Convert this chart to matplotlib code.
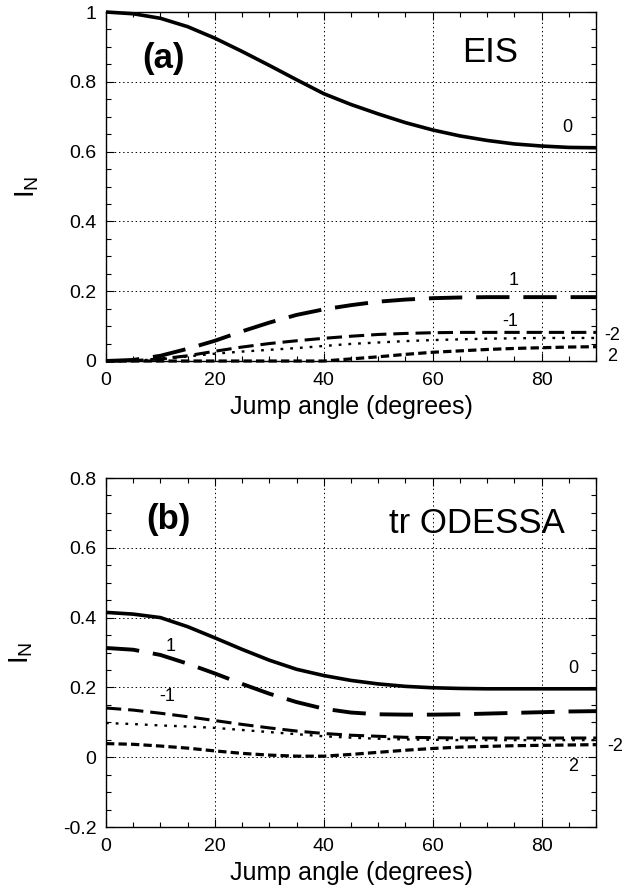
import matplotlib
matplotlib.use("Agg")
import matplotlib.pyplot as plt
from matplotlib.ticker import MultipleLocator, FuncFormatter

plt.rcParams['font.family'] = ['Liberation Sans', 'DejaVu Sans']
plt.rcParams['lines.scale_dashes'] = False
plt.rcParams['mathtext.fontset'] = 'custom'
plt.rcParams['mathtext.rm'] = 'Liberation Sans'
plt.rcParams['mathtext.it'] = 'Liberation Sans'

angle = [0, 5, 10, 15, 20, 25, 30, 35, 40, 45, 50, 55, 60, 65, 70, 75, 80, 85, 90]

# Panel (a): EIS
a_0 = [1.0, 0.995, 0.982, 0.958, 0.925, 0.887, 0.847, 0.806, 0.766, 0.735, 0.708,
       0.683, 0.662, 0.645, 0.632, 0.622, 0.616, 0.612, 0.611]
a_1 = [0.0, 0.003, 0.015, 0.035, 0.058, 0.085, 0.110, 0.132, 0.148, 0.160, 0.170,
       0.176, 0.180, 0.182, 0.183, 0.183, 0.183, 0.183, 0.183]
a_m1 = [0.0, 0.001, 0.006, 0.015, 0.028, 0.040, 0.050, 0.058, 0.065, 0.071, 0.076,
        0.079, 0.081, 0.082, 0.082, 0.082, 0.082, 0.082, 0.082]
a_m2 = [0.0, 0.001, 0.005, 0.013, 0.021, 0.027, 0.032, 0.037, 0.043, 0.049, 0.053,
        0.057, 0.060, 0.062, 0.064, 0.065, 0.066, 0.066, 0.066]
a_2 = [0.0, 0.0, 0.0, 0.0, 0.0, 0.0, 0.0, 0.0, 0.0, 0.006, 0.012,
       0.019, 0.025, 0.029, 0.033, 0.036, 0.038, 0.040, 0.041]

# Panel (b): tr ODESSA
b_0 = [0.415, 0.410, 0.400, 0.374, 0.342, 0.309, 0.278, 0.252, 0.234, 0.220, 0.210,
       0.203, 0.199, 0.197, 0.196, 0.196, 0.196, 0.196, 0.196]
b_1 = [0.313, 0.308, 0.293, 0.268, 0.240, 0.210, 0.182, 0.158, 0.139, 0.128, 0.123,
       0.122, 0.122, 0.123, 0.125, 0.127, 0.129, 0.131, 0.132]
b_m1 = [0.141, 0.135, 0.126, 0.116, 0.105, 0.094, 0.084, 0.075, 0.068, 0.063, 0.060,
        0.057, 0.056, 0.055, 0.055, 0.055, 0.055, 0.055, 0.055]
b_m2 = [0.098, 0.095, 0.091, 0.088, 0.084, 0.078, 0.072, 0.066, 0.060, 0.056, 0.053,
        0.051, 0.050, 0.049, 0.049, 0.049, 0.049, 0.049, 0.049]
b_2 = [0.039, 0.037, 0.032, 0.026, 0.018, 0.011, 0.006, 0.003, 0.003, 0.008, 0.014,
       0.020, 0.025, 0.029, 0.031, 0.033, 0.034, 0.035, 0.036]

styles = {
    '0': dict(lw=2.6, ls='-'),
    '1': dict(lw=2.8, dashes=(24, 10)),
    '-1': dict(lw=2.2, dashes=(11, 5)),
    '-2': dict(lw=1.7, dashes=(2, 5)),
    '2': dict(lw=2.3, dashes=(6, 3)),
}

fig = plt.figure(figsize=(6.4, 8.96), dpi=100)
ax_a = fig.add_axes([0.1656, 0.5971, 0.7656, 0.3895])
ax_b = fig.add_axes([0.1656, 0.0770, 0.7656, 0.3895])

fmt = FuncFormatter(lambda v, p: '%g' % round(v, 3))

def setup(ax, ylo, yhi):
    ax.set_xlim(0, 90)
    ax.set_ylim(ylo, yhi)
    ax.xaxis.set_major_locator(MultipleLocator(20))
    ax.xaxis.set_minor_locator(MultipleLocator(5))
    ax.yaxis.set_major_locator(MultipleLocator(0.2))
    ax.yaxis.set_minor_locator(MultipleLocator(0.05))
    ax.yaxis.set_major_formatter(fmt)
    ax.tick_params(which='both', direction='in', top=True, right=True,
                   labelsize=14, width=0.8)
    ax.tick_params(which='major', length=6, pad=8)
    ax.tick_params(axis='y', which='major', pad=7)
    ax.tick_params(which='minor', length=3.5)
    ax.grid(True, which='major', color='black', linestyle=(0, (1, 2)), linewidth=0.7)
    for s in ax.spines.values():
        s.set_linewidth(1.0)
    ax.set_xlabel('Jump angle (degrees)', fontsize=18, labelpad=4)
    ax.set_ylabel(r'$\mathregular{I_N}$', fontsize=20, labelpad=20)

def draw(ax, series):
    for key, vals in series:
        ax.plot(angle, vals, color='black', solid_capstyle='butt',
                dash_capstyle='butt', clip_on=False, **styles[key])

lab = dict(fontsize=13, ha='center', va='center', clip_on=False)

setup(ax_a, 0, 1.0)
draw(ax_a, [('0', a_0), ('1', a_1), ('-1', a_m1), ('-2', a_m2), ('2', a_2)])
ax_a.text(10.5, 0.868, '(a)', fontsize=25, fontweight='bold', ha='center', va='center')
ax_a.text(70.5, 0.883, 'EIS', fontsize=25, ha='center', va='center')
ax_a.text(84.7, 0.67, '0', **lab)
ax_a.text(74.8, 0.232, '1', **lab)
ax_a.text(74.2, 0.112, '-1', **lab)
ax_a.text(93.0, 0.074, '-2', **lab)
ax_a.text(93.0, 0.012, '2', **lab)

setup(ax_b, -0.2, 0.8)
draw(ax_b, [('0', b_0), ('1', b_1), ('-1', b_m1), ('-2', b_m2), ('2', b_2)])
ax_b.text(11.4, 0.68, '(b)', fontsize=25, fontweight='bold', ha='center', va='center')
ax_b.text(68.1, 0.671, 'tr ODESSA', fontsize=25, ha='center', va='center')
ax_b.text(11.8, 0.317, '1', **lab)
ax_b.text(85.8, 0.254, '0', **lab)
ax_b.text(11.2, 0.174, '-1', **lab)
ax_b.text(93.5, 0.031, '-2', **lab)
ax_b.text(85.8, -0.026, '2', **lab)

fig.savefig('out.png', dpi=100)
